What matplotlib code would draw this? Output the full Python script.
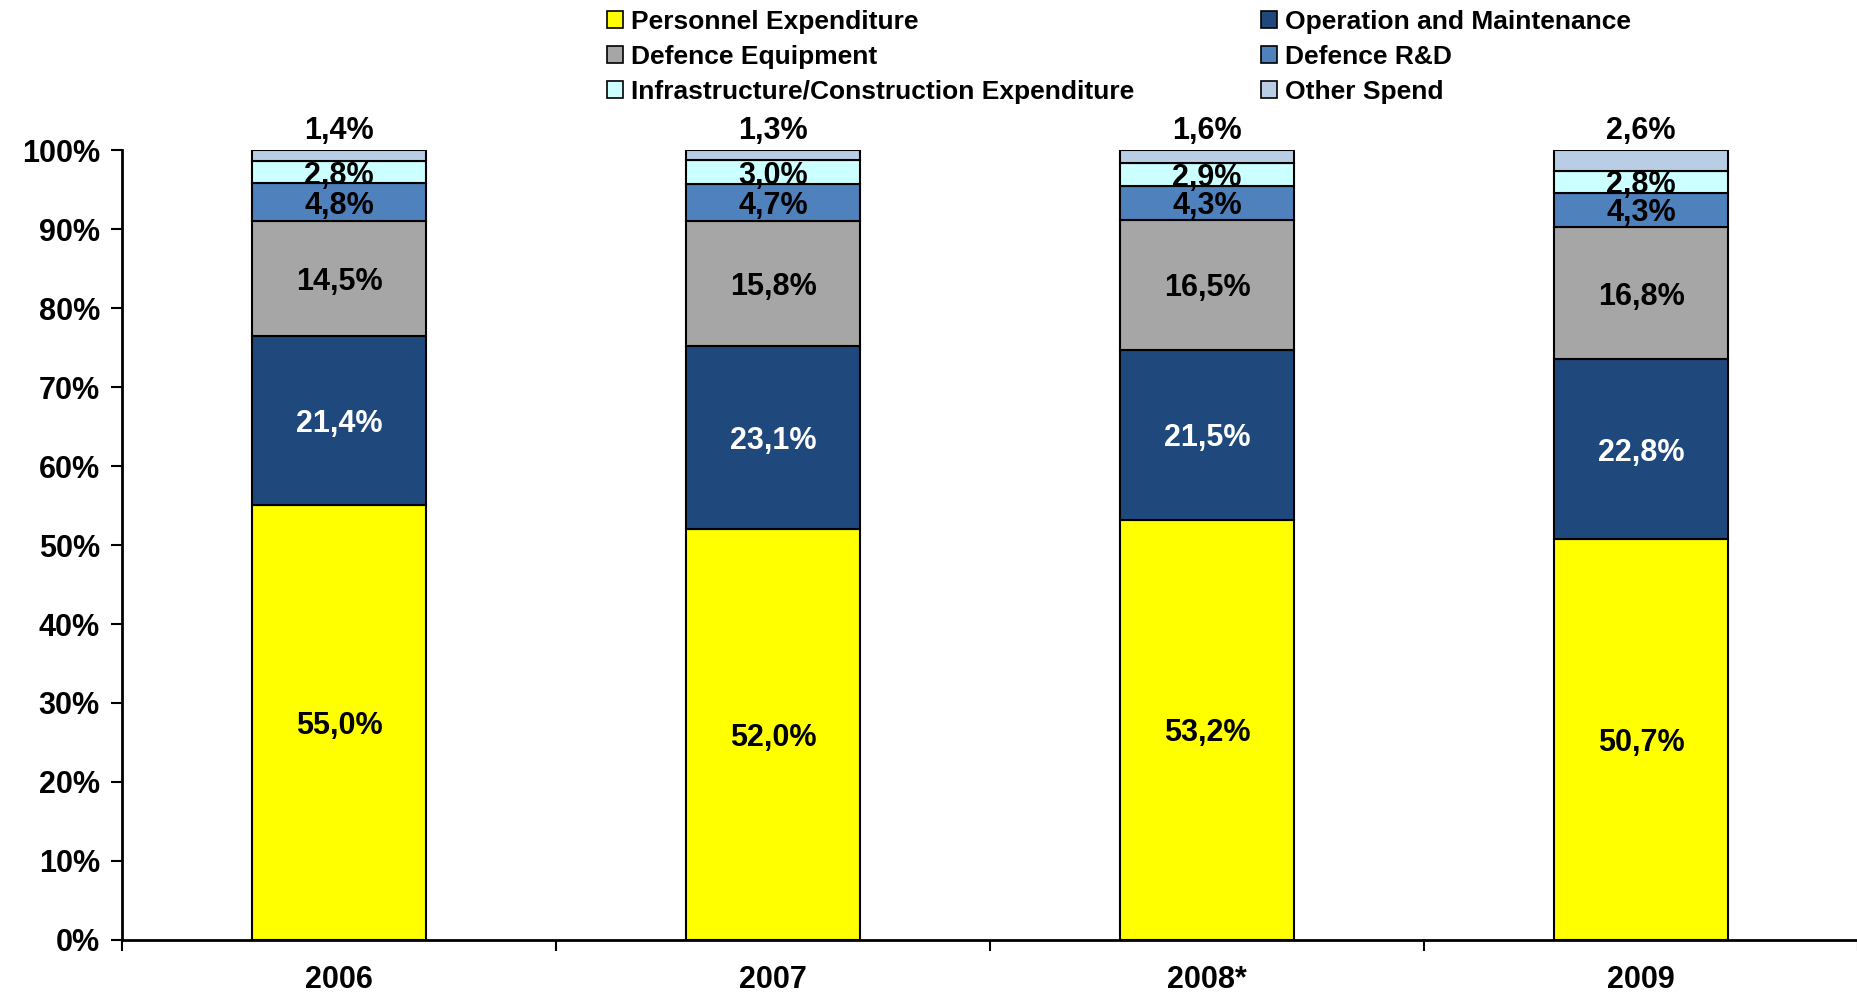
import numpy as np
import matplotlib
matplotlib.use("Agg")
import matplotlib.pyplot as plt
from matplotlib.patches import Patch

years = ["2006", "2007", "2008*", "2009"]
personnel = [55.0, 52.0, 53.2, 50.7]
operation = [21.4, 23.1, 21.5, 22.8]
equipment = [14.5, 15.8, 16.5, 16.8]
research = [4.8, 4.7, 4.3, 4.3]
infrastructure = [2.8, 3.0, 2.9, 2.8]
other = [1.4, 1.3, 1.6, 2.6]

series_names = [
    "Personnel Expenditure",
    "Operation and Maintenance",
    "Defence Equipment",
    "Defence R&D",
    "Infrastructure/Construction Expenditure",
    "Other Spend",
]
colors = ["#FFFF00", "#1F497D", "#A6A6A6", "#4F81BD", "#CCFFFF", "#B9CDE5"]
text_colors = ["black", "white", "black", "black", "black", "black"]

plt.rcParams["font.family"] = ["Liberation Sans", "DejaVu Sans"]
plt.rcParams["font.weight"] = "bold"

data = np.array([personnel, operation, equipment, research, infrastructure, other])
# 100% stacked, like the spreadsheet chart
shares = data / data.sum(axis=0) * 100

fig = plt.figure(figsize=(18.58, 9.97), dpi=100)
ax = fig.add_axes([0.0657, 0.0572, 0.9343, 0.7923])

x = np.arange(len(years))
bottom = np.zeros(len(years))
for i, name in enumerate(series_names):
    ax.bar(x, shares[i], 0.4, bottom=bottom, color=colors[i],
           edgecolor="black", linewidth=1.5, label=name, zorder=2)
    for j in range(len(years)):
        lbl = f"{data[i, j]:.1f}%".replace(".", ",")
        if i == len(series_names) - 1:
            ax.text(x[j], 100.5, lbl, ha="center", va="bottom",
                    fontsize=22, fontweight="bold", color="black")
        else:
            ax.text(x[j], bottom[j] + shares[i, j] / 2, lbl, ha="center",
                    va="center_baseline", fontsize=22, fontweight="bold",
                    color=text_colors[i])
    bottom += shares[i]

ax.set_xlim(-0.5, 3.5)
ax.set_ylim(0, 100)
ax.set_yticks(np.arange(0, 101, 10))
ax.set_yticklabels([f"{v}%" for v in range(0, 101, 10)], fontsize=22, fontweight="bold")
ax.set_xticks(x)
ax.set_xticklabels(years, fontsize=22, fontweight="bold")
ax.set_xticks(np.arange(-0.5, 4, 1), minor=True)
ax.tick_params(axis="x", which="major", length=0, pad=18)
ax.tick_params(axis="x", which="minor", length=8, width=1.5, direction="out")
ax.tick_params(axis="y", length=8, width=1.5, direction="out", pad=8)
for s in ["top", "right"]:
    ax.spines[s].set_visible(False)
for s in ["left", "bottom"]:
    ax.spines[s].set_linewidth(2)
ax.spines["bottom"].set_zorder(3)

order = [0, 2, 4, 1, 3, 5]
handles = [Patch(facecolor=colors[k], edgecolor="black", linewidth=1.2) for k in order]
labels = [series_names[k] for k in order]
fig.legend(handles, labels, ncol=2, loc="upper left", bbox_to_anchor=(0.314, 1.014),
           frameon=False, handlelength=0.6, handleheight=0.6,
           handletextpad=0.3, columnspacing=4.8, labelspacing=0.42,
           prop={"weight": "bold", "size": 19})

fig.savefig("out.png", dpi=100)
